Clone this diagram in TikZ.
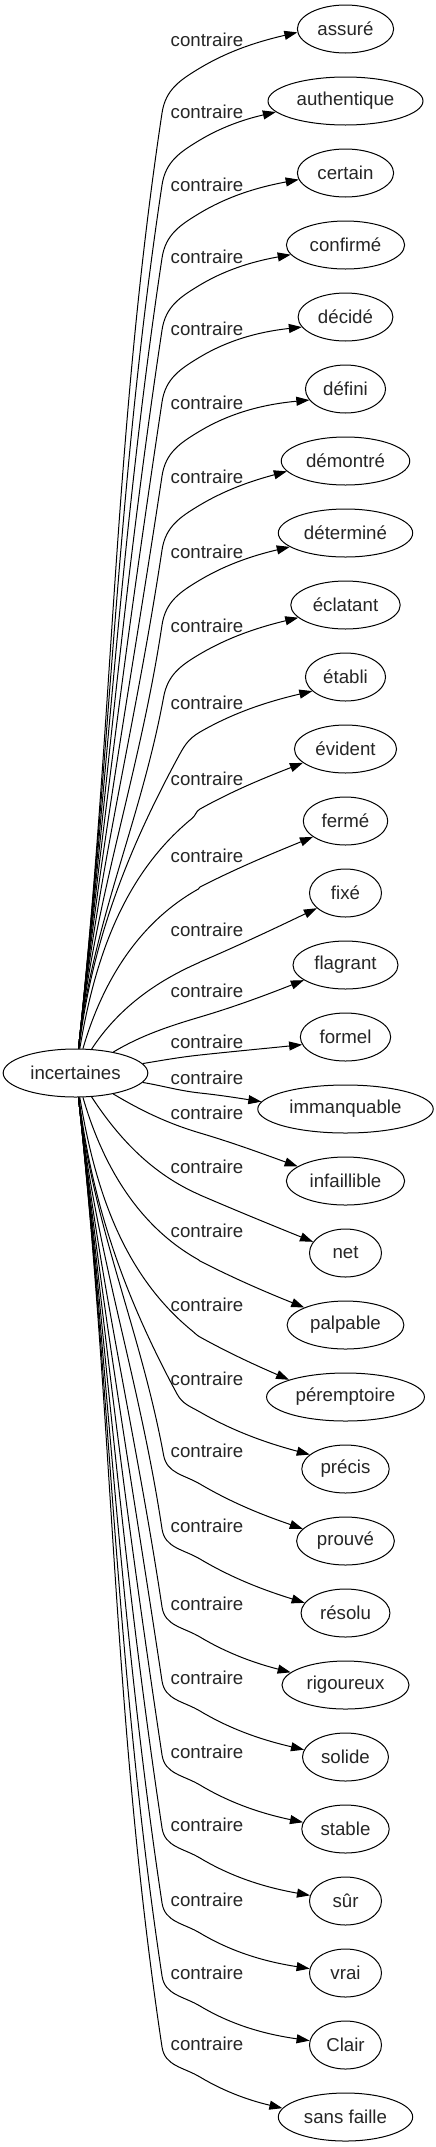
\documentclass[tikz,border=0pt]{standalone}
\usepackage{fontspec}
\setmainfont{Liberation Sans}
\usetikzlibrary{shapes.geometric,arrows.meta}
\begin{document}
\begin{tikzpicture}[x=1pt,y=-1pt,
  word/.style={ellipse,draw,line width=1pt,inner xsep=6pt,inner ysep=2pt,
    minimum width=72pt,minimum height=48pt,text=black!85,
    font=\fontsize{18.67}{22}\selectfont},
  lbl/.style={inner sep=0pt,text=black!85,font=\fontsize{18.67}{22}\selectfont},
  edgeline/.style={line width=1pt,-{Triangle[length=13pt,width=9pt]}}]
\fill[white] (0,0) rectangle (436,2147);
\useasboundingbox (0,0) rectangle (436,2147);
\node[word] (inc) at (75.5,1073) {incertaines};
\foreach \i/\w/\yl/\yo/\ee in {
0/assuré/40/28/4, 1/authentique/112/28/11, 2/certain/185/28/7, 3/confirmé/257/28/10,
4/décidé/329/28/10, 5/défini/403/28/11, 6/démontré/477/28/11, 7/déterminé/552/28/14,
8/éclatant/626/28/13, 9/établi/703/29/14, 10/évident/779/30/14, 11/fermé/856/31/16,
12/fixé/930/32/15, 13/flagrant/991/26/15, 14/formel/1042/13/8, 15/immanquable/1078/15/-7,
16/infaillible/1113/20/-14, 17/net/1167/28/-11, 18/palpable/1231/30/-17, 19/péremptoire/1305/32/-17,
20/précis/1379/33/-14, 21/prouvé/1451/33/-12, 22/résolu/1526/33/-10, 23/rigoureux/1604/33/-12,
24/solide/1678/33/-7, 25/stable/1752/33/-6, 26/sûr/1825/33/-5, 27/vrai/1900/33/-4,
28/Clair/1973/33/-4, 29/sans faille/2044/33/-8}{
  \pgfmathsetmacro\eYt{29+72*\i}
  \node[word] (t\i) at (345.5,\eYt) {\w};
  \node[lbl] (l\i) at (207,\yl) {contraire};
  \pgfmathwidth{"\w"}\let\eTw\pgfmathresult
  \pgfmathsetmacro\eHw{max(36,0.7071*(1.867*\eTw+12))}
  \pgfmathsetmacro\eXo{\eHw*sqrt(1-((\ee)/24)^2)}
  \pgfmathsetmacro\eEa{180+atan((\ee)/\eXo)}
  \pgfmathsetmacro\eQx{345.5-\eXo}
  \pgfmathsetmacro\eQy{\eYt+(\ee)}
  \pgfmathsetmacro\eDy{\eYt-1073}
  \pgfmathsetmacro\eA{abs(\eDy)}
  \pgfmathsetmacro\eSg{(\eDy)/\eA}
  \pgfmathsetmacro\ePh{88*tanh(min(\eA/130,4))}
  \pgfmathsetmacro\eAl{atan(0.332*tan(\ePh))}
  \pgfmathsetmacro\eAng{-(\eSg)*\eAl}
  \pgfmathsetmacro\ePx{75.5+72.3*cos(\ePh)}
  \pgfmathsetmacro\ePy{1073+(\eSg)*24*sin(\ePh)}
  \pgfmathsetmacro\eUx{cos(\eAl)}
  \pgfmathsetmacro\eUy{(\eSg)*sin(\eAl)}
  \pgfmathsetmacro\eG{tanh(min(pow(\eA/420,6),4))}
  \pgfmathsetmacro\eS{0.6*tanh(max(min((\eDy)/200,4),-4))}
  \pgfmathsetmacro\eN{sqrt(1+(\eS)*(\eS))}
  \pgfmathsetmacro\eWx{200}
  \pgfmathsetmacro\eWy{\yl+\yo}
  \pgfmathsetmacro\eVx{200-38*\eG}
  \pgfmathsetmacro\eVy{\eWy-(\eSg)*(37.5-7.5*(\eSg))*\eG}
  \pgfmathsetmacro\eTx{(1-\eG)/\eN+0.15*\eG}
  \pgfmathsetmacro\eTy{(1-\eG)*(\eS)/\eN+(\eSg)*\eG}
  \pgfmathsetmacro\eTn{sqrt((\eTx)*(\eTx)+(\eTy)*(\eTy))}
  \pgfmathsetmacro\eTx{(\eTx)/\eTn}
  \pgfmathsetmacro\eTy{(\eTy)/\eTn}
  \pgfmathsetmacro\eLa{100*sqrt(((\eVx-\ePx)/100)^2+((\eVy-\ePy)/100)^2)}
  \pgfmathsetmacro\eCax{\ePx+0.35*\eLa*(\eUx)}
  \pgfmathsetmacro\eCay{\ePy+0.35*\eLa*(\eUy)}
  \pgfmathsetmacro\eCbx{\eVx-0.35*\eLa*(\eTx)}
  \pgfmathsetmacro\eCby{\eVy-0.35*\eLa*(\eTy)}
  \pgfmathsetmacro\eLb{100*sqrt(((\eWx-\eVx)/100)^2+((\eWy-\eVy)/100)^2)}
  \pgfmathsetmacro\eCcx{\eVx+0.4*\eLb*(\eTx)}
  \pgfmathsetmacro\eCcy{\eVy+0.4*\eLb*(\eTy)}
  \pgfmathsetmacro\eCdx{\eWx-0.4*\eLb/\eN}
  \pgfmathsetmacro\eCdy{\eWy-0.4*\eLb*(\eS)/\eN}
  \pgfmathsetmacro\eLc{100*sqrt(((\eQx-\eWx)/100)^2+((\eQy-\eWy)/100)^2)}
  \pgfmathsetmacro\eM{(\eQy-\eWy)/(\eQx-\eWx)}
  \pgfmathsetmacro\eSe{1.6*(\eM)-0.6*(\eS)}
  \pgfmathsetmacro\eNe{sqrt(1+(\eSe)*(\eSe))}
  \pgfmathsetmacro\eCex{\eWx+0.35*\eLc/\eN}
  \pgfmathsetmacro\eCey{\eWy+0.35*\eLc*(\eS)/\eN}
  \pgfmathsetmacro\eCfx{\eQx-0.35*\eLc/\eNe}
  \pgfmathsetmacro\eCfy{\eQy-0.35*\eLc*(\eSe)/\eNe}
  \draw[edgeline] (inc.\eAng) .. controls (\eCax,\eCay) and (\eCbx,\eCby) .. (\eVx,\eVy)
     .. controls (\eCcx,\eCcy) and (\eCdx,\eCdy) .. (\eWx,\eWy)
     .. controls (\eCex,\eCey) and (\eCfx,\eCfy) .. (t\i.\eEa);
}
\end{tikzpicture}
\end{document}
